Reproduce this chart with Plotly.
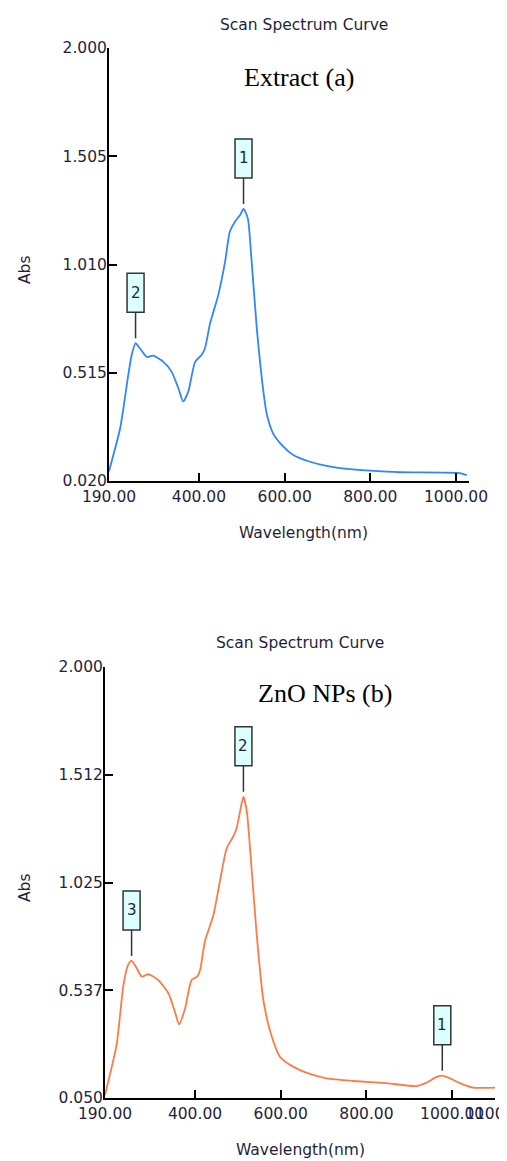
import plotly.graph_objects as go

# ---------------- data ----------------
# (a) Extract
wl_a = [190, 216, 235, 243, 252, 262, 278, 293, 317, 336, 352, 363, 375, 391, 406, 414,
        426, 445, 461, 472, 484, 496, 504, 514, 523, 535, 550, 558, 573, 597, 620, 659,
        698, 745, 799, 869, 1009, 1025]
abs_a = [0.065, 0.261, 0.505, 0.596, 0.650, 0.627, 0.588, 0.593, 0.565, 0.520, 0.444, 0.383,
         0.428, 0.565, 0.596, 0.627, 0.741, 0.870, 1.023, 1.160, 1.206, 1.236, 1.264, 1.221,
         1.023, 0.718, 0.435, 0.329, 0.238, 0.177, 0.139, 0.108, 0.089, 0.075, 0.067, 0.060,
         0.056, 0.047]

# (b) ZnO NPs
wl_b = [190, 217, 233, 244, 252, 262, 276, 291, 314, 338, 353, 363, 377, 392, 405, 412,
        423, 443, 458, 474, 489, 497, 505, 513, 521, 532, 544, 559, 575, 598, 629, 668,
        707, 770, 847, 917, 941, 960, 977, 995, 1018, 1049, 1100]
abs_b = [0.064, 0.290, 0.561, 0.652, 0.670, 0.644, 0.599, 0.610, 0.584, 0.524, 0.441, 0.383,
         0.456, 0.584, 0.599, 0.629, 0.757, 0.878, 1.029, 1.180, 1.232, 1.270, 1.345, 1.413,
         1.345, 1.089, 0.788, 0.500, 0.355, 0.237, 0.192, 0.159, 0.139, 0.127, 0.117, 0.104,
         0.120, 0.142, 0.151, 0.139, 0.117, 0.097, 0.097]

yticks_a = [0.020, 0.515, 1.010, 1.505, 2.000]
yticks_b = [0.050, 0.537, 1.025, 1.512, 2.000]
ytext_a = ["0.020", "0.515", "1.010", "1.505", "2.000"]
ytext_b = ["0.050", "0.537", "1.025", "1.512", "2.000"]
xticks_a = [190, 400, 600, 800, 1000]
xtext_a = ["190.00", "400.00", "600.00", "800.00", "1000.00"]
xticks_b = [190, 400, 600, 800, 1000, 1100]
xtext_b = ["190.00", "400.00", "600.00", "800.00", "1000.00", "1100.\u2003"]

# peak markers: (wavelength, abs, label)
peaks_a = [(504, 1.264, "1"), (252, 0.650, "2")]
peaks_b = [(977, 0.151, "1"), (513, 1.413, "2"), (252, 0.670, "3")]

# ---------------- layout ----------------
W, H = 507, 1161
OFF = 8  # default page body margin
def px(x):
    return (x - OFF) / W
def py(y):
    return 1 - (y - OFF) / H

blue = "#2f86ff"
orange = "#ff7a45"
txt = "#1f1f3a"
font_sans = "DejaVu Sans"

fig = go.Figure()
fig.add_trace(go.Scatter(x=wl_a, y=abs_a, mode="lines", xaxis="x", yaxis="y",
                         line=dict(color=blue, width=1.8, shape="spline", smoothing=0.6),
                         showlegend=False, hoverinfo="skip"))
fig.add_trace(go.Scatter(x=wl_b, y=abs_b, mode="lines", xaxis="x2", yaxis="y2",
                         line=dict(color=orange, width=1.8, shape="spline", smoothing=0.6),
                         showlegend=False, hoverinfo="skip"))

axis_common = dict(showgrid=False, zeroline=False, showline=True, linecolor="black",
                   linewidth=2, ticks="inside", ticklen=8, tickwidth=1.5, tickcolor="black",
                   tickfont=dict(family=font_sans, size=15.5, color=txt), tickangle=0,
                   ticklabeloverflow="allow", fixedrange=True, automargin=False)

fig.update_layout(
    width=W, height=H,
    margin=dict(l=0, r=0, t=0, b=0, autoexpand=False),
    paper_bgcolor="white", plot_bgcolor="white",
    xaxis=dict(domain=[px(109), px(469)], range=[190, 1030.3], anchor="y",
               tickvals=xticks_a, ticktext=xtext_a, **axis_common),
    yaxis=dict(domain=[py(481), py(48)], range=[0.020, 2.000], anchor="x",
               tickvals=yticks_a, ticktext=ytext_a, ticklabelstandoff=-3, **axis_common),
    xaxis2=dict(domain=[px(105), px(495)], range=[190, 1100], anchor="y2",
                tickvals=xticks_b, ticktext=xtext_b, **axis_common),
    yaxis2=dict(domain=[py(1098), py(667)], range=[0.050, 2.000], anchor="x2",
                tickvals=yticks_b, ticktext=ytext_b, ticklabelstandoff=-3, **axis_common),
)

shapes = []
annotations = []
for peaks, xr, yr in [(peaks_a, "x", "y"), (peaks_b, "x2", "y2")]:
    for (w, a, lab) in peaks:
        shapes.append(dict(type="line", xref=xr, yref=yr, xsizemode="pixel", ysizemode="pixel",
                           xanchor=w, yanchor=a, x0=0, x1=0, y0=5, y1=31,
                           line=dict(color="#333333", width=1.5)))
        shapes.append(dict(type="rect", xref=xr, yref=yr, xsizemode="pixel", ysizemode="pixel",
                           xanchor=w, yanchor=a, x0=-8.5, x1=8.5, y0=31, y1=70,
                           fillcolor="#dcffff", line=dict(color="#333333", width=1.5)))
        annotations.append(dict(x=w, y=a, xref=xr, yref=yr, text=lab, showarrow=False,
                                yshift=50.5, font=dict(family=font_sans, size=15, color=txt)))

def label(text, x, y, size, family=font_sans, color=txt, angle=0):
    annotations.append(dict(text=text, x=px(x), y=py(y), xref="paper", yref="paper",
                            xanchor="center", yanchor="middle", showarrow=False,
                            textangle=angle, font=dict(family=family, size=size, color=color)))

label("Scan Spectrum Curve", 303.5, 25, 15.5)
label("Scan Spectrum Curve", 300, 643, 15.5)
label("Extract (a)", 299, 78, 26, family="Liberation Serif", color="black")
label("ZnO NPs (b)", 325, 693, 26, family="Liberation Serif", color="black")
label("Abs", 25, 270, 15.5, angle=-90)
label("Abs", 25, 888, 15.5, angle=-90)
label("Wavelength(nm)", 303, 533, 15.5)
label("Wavelength(nm)", 300.5, 1150, 15.5)

fig.update_layout(shapes=shapes, annotations=annotations)
fig.write_html("out.html")
